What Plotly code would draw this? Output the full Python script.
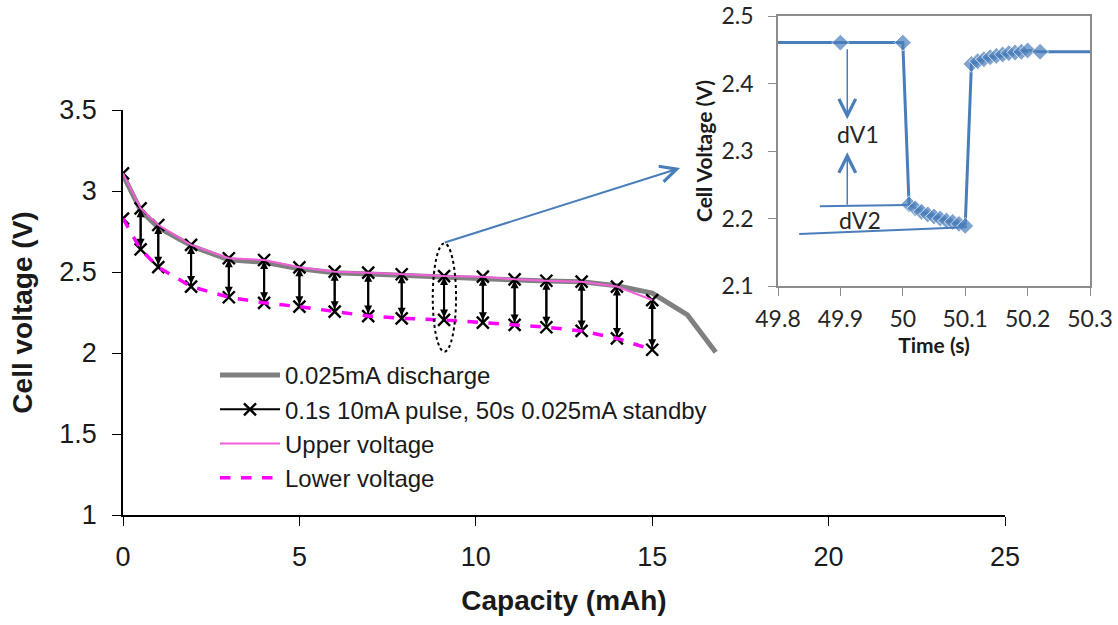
import plotly.graph_objects as go

# ---------------- data ----------------
# pulse test: capacity positions of the pulses, upper (rest) and lower (pulse) voltages
pulse_cap = [0, 0.5, 1, 1.93, 3, 4, 5, 6, 6.95, 7.9, 9.1, 10.2, 11.1, 12.0, 13.0, 14.0, 15.0]
upper_v = [3.109, 2.893, 2.79, 2.667, 2.585, 2.574, 2.529, 2.502, 2.496, 2.486, 2.475,
           2.471, 2.455, 2.446, 2.44, 2.41, 2.327]
lower_v = [2.83, 2.64, 2.53, 2.41, 2.344, 2.31, 2.286, 2.255, 2.228, 2.214, 2.204,
           2.187, 2.173, 2.159, 2.136, 2.09, 2.02]

# continuous 0.025 mA discharge
dis_cap = [0, 0.5, 1, 2, 3, 4, 5, 6, 7, 8, 9, 10, 11, 12, 13, 14, 15, 16, 16.8]
dis_v = [3.10, 2.88, 2.775, 2.655, 2.575, 2.56, 2.52, 2.495, 2.487, 2.477, 2.468,
         2.462, 2.452, 2.445, 2.44, 2.415, 2.37, 2.235, 2.005]

# inset: one pulse around t = 50 s
inset_t = [49.8, 49.9, 50.0,
           50.01, 50.02, 50.03, 50.04, 50.05, 50.06, 50.07, 50.08, 50.09, 50.1,
           50.11, 50.12, 50.13, 50.14, 50.15, 50.16, 50.17, 50.18, 50.19, 50.2,
           50.22, 50.3]
inset_v = [2.4606, 2.4606, 2.4606,
           2.221, 2.215, 2.210, 2.206, 2.203, 2.200, 2.197, 2.195, 2.192, 2.189,
           2.429, 2.433, 2.436, 2.439, 2.441, 2.443, 2.445, 2.446, 2.447, 2.449,
           2.447, 2.447]
inset_marker_shown = [0, 1, 1] + [1] * 10 + [1] * 10 + [1, 0]

# tick labels
main_x_ticks = [0, 5, 10, 15, 20, 25]
main_y_ticks = [1, 1.5, 2, 2.5, 3, 3.5]
inset_x_ticks = [49.8, 49.9, 50, 50.1, 50.2, 50.3]
inset_x_ticktext = ["49.8", "49.9", "50", "50.1", "50.2", "50.3"]
inset_y_ticks = [2.1, 2.2, 2.3, 2.4, 2.5]
inset_y_ticktext = ["2.1", "2.2", "2.3", "2.4", "2.5"]

# labels
legend_names = ["0.025mA discharge", "0.1s 10mA pulse, 50s 0.025mA standby",
                "Upper voltage", "Lower voltage"]
main_x_title = "Capacity (mAh)"
main_y_title = "Cell voltage (V)"
inset_x_title = "Time (s)"
inset_y_title = "Cell Voltage (V)"

# annotation geometry (in data units)
ellipse_x = [8.78, 9.44]
ellipse_y = [2.008, 2.677]
zoom_arrow_tail = [9.08, 2.679]
zoom_arrow_head = [15.79, 3.142]
dv1_arrow_down = [49.911, 2.453, 2.347]   # x, from, to
dv1_arrow_up = [49.911, 2.218, 2.298]
dv1_label = [49.928, 2.325, "dV1"]
dv2_label = [49.932, 2.198, "dV2"]
ref_line_1 = [49.867, 2.218, 50.007, 2.220]
ref_line_2 = [49.834, 2.177, 50.1, 2.187]

# ---------------- figure ----------------
W, H = 1118, 625
MAIN_FONT = "Liberation Sans, Arial, sans-serif"
INSET_FONT = "Lato, Carlito, Calibri, sans-serif"
BLUE = "#4a7ebb"
EPS = 1e-6


def fx(p):
    return p / W


def fy(p):
    return 1 - p / H


fig = go.Figure()

fig.add_trace(go.Scatter(x=dis_cap, y=dis_v, mode="lines", name=legend_names[0],
                         line=dict(color="#808080", width=5)))

px, py = [], []
for i, (c, u, l) in enumerate(zip(pulse_cap, upper_v, lower_v)):
    if i == 0:
        px += [c, None, c, None]
        py += [u, None, l, None]
    else:
        px += [c, c, None]
        py += [u, l, None]
fig.add_trace(go.Scatter(x=px, y=py, mode="lines+markers", name=legend_names[1],
                         connectgaps=False,
                         line=dict(color="black", width=2),
                         marker=dict(symbol="x-thin", size=12,
                                     line=dict(color="black", width=2.4))))

fig.add_trace(go.Scatter(x=pulse_cap, y=upper_v, mode="lines", name=legend_names[2],
                         line=dict(color="#f060d8", width=2)))
fig.add_trace(go.Scatter(x=pulse_cap, y=lower_v, mode="lines", name=legend_names[3],
                         line=dict(color="#ff00ff", width=3.5, dash="dash")))

# inset trace
fig.add_trace(go.Scatter(x=inset_t, y=inset_v, mode="lines+markers", xaxis="x2", yaxis="y2",
                         showlegend=False, cliponaxis=False,
                         line=dict(color=BLUE, width=3),
                         marker=dict(symbol="diamond", color=BLUE,
                                     size=[13 * s for s in inset_marker_shown])))

annotations = []
# double arrowheads on each pulse bar
for c, u, l in list(zip(pulse_cap, upper_v, lower_v))[1:]:
    annotations.append(dict(x=c, y=u, ax=c, ay=l, xref="x", yref="y", axref="x", ayref="y",
                            text="", showarrow=True, arrowside="end+start",
                            arrowhead=2, startarrowhead=2, arrowsize=0.8, startarrowsize=0.8,
                            arrowwidth=2, arrowcolor="black", standoff=1, startstandoff=1))
# zoom arrow
annotations.append(dict(x=zoom_arrow_head[0], y=zoom_arrow_head[1],
                        ax=zoom_arrow_tail[0], ay=zoom_arrow_tail[1],
                        xref="x", yref="y", axref="x", ayref="y", text="", showarrow=True,
                        arrowhead=5, arrowsize=1.6, arrowwidth=2, arrowcolor=BLUE))
# inset dV arrows
for a in (dv1_arrow_down, dv1_arrow_up):
    annotations.append(dict(x=a[0], y=a[2], ax=a[0], ay=a[1],
                            xref="x2", yref="y2", axref="x2", ayref="y2", text="",
                            showarrow=True, arrowhead=5, arrowsize=2.2, arrowwidth=1.5,
                            arrowcolor=BLUE))
for lab in (dv1_label, dv2_label):
    annotations.append(dict(x=lab[0], y=lab[1], xref="x2", yref="y2", text=lab[2],
                            showarrow=False, font=dict(family=INSET_FONT, size=23, color="#262626")))

shapes = [
    dict(type="circle", xref="x", yref="y", x0=ellipse_x[0], x1=ellipse_x[1],
         y0=ellipse_y[0], y1=ellipse_y[1], line=dict(color="black", width=2, dash="dot")),
    dict(type="line", xref="x2", yref="y2", x0=ref_line_1[0], y0=ref_line_1[1],
         x1=ref_line_1[2], y1=ref_line_1[3], line=dict(color=BLUE, width=2)),
    dict(type="line", xref="x2", yref="y2", x0=ref_line_2[0], y0=ref_line_2[1],
         x1=ref_line_2[2], y1=ref_line_2[3], line=dict(color=BLUE, width=2)),
]

# pixel layout (reference page pixels)
main_l, main_r, main_t, main_b = 123, 1005, 110, 515
ins_l, ins_r, ins_t, ins_b = 778, 1090, 16, 286

fig.update_layout(
    width=W, height=H, autosize=False,
    margin=dict(l=0, r=0, t=0, b=0),
    paper_bgcolor="white", plot_bgcolor="rgba(0,0,0,0)",
    font=dict(family=MAIN_FONT, color="#1a1a1a"),
    showlegend=True,
    legend=dict(x=fx(215), y=fy(353), xanchor="left", yanchor="top",
                bgcolor="rgba(0,0,0,0)", font=dict(family=MAIN_FONT, size=24, color="#1a1a1a"),
                itemwidth=60, tracegroupgap=0),
    xaxis=dict(domain=[fx(main_l), fx(main_r)], range=[0, 25],
               tickmode="array", tickvals=main_x_ticks,
               showgrid=False, zeroline=False, showline=True, linecolor="black", linewidth=1.5,
               ticks="outside", ticklen=9, tickcolor="black", tickwidth=1.2,
               tickfont=dict(size=27, family=MAIN_FONT), ticklabelstandoff=8,
               title=dict(text=main_x_title, font=dict(size=28, weight="bold"), standoff=19),
               anchor="y", automargin=False),
    yaxis=dict(domain=[fy(main_b), fy(main_t)], range=[1, 3.5],
               tickmode="array", tickvals=main_y_ticks,
               showgrid=False, zeroline=False, showline=True, linecolor="black", linewidth=1.5,
               ticks="outside", ticklen=9, tickcolor="black", tickwidth=1.2,
               tickfont=dict(size=27, family=MAIN_FONT), ticklabelstandoff=10,
               title=dict(text=main_y_title, font=dict(size=28, weight="bold"), standoff=19),
               anchor="x", automargin=False),
    xaxis2=dict(domain=[fx(ins_l), fx(ins_r)], range=[49.8 - EPS, 50.3 + EPS],
                tickmode="array", tickvals=inset_x_ticks, ticktext=inset_x_ticktext,
                showgrid=False, zeroline=False, showline=True, mirror=True,
                linecolor="#8c8c8c", linewidth=1.5,
                ticks="outside", ticklen=8, tickcolor="#8c8c8c",
                tickfont=dict(size=23, family=INSET_FONT, color="#262626"), ticklabelstandoff=4,
                ticklabeloverflow="allow",
                title=dict(text=inset_x_title, font=dict(size=21, family=INSET_FONT, weight="bold",
                                                         color="#1a1a1a"), standoff=1),
                anchor="y2", automargin=False),
    yaxis2=dict(domain=[fy(ins_b), fy(ins_t)], range=[2.1 - EPS, 2.5 + EPS],
                tickmode="array", tickvals=inset_y_ticks, ticktext=inset_y_ticktext,
                showgrid=False, zeroline=False, showline=True, mirror=True,
                linecolor="#8c8c8c", linewidth=1.5,
                ticks="outside", ticklen=8, tickcolor="#8c8c8c",
                tickfont=dict(size=23, family=INSET_FONT, color="#262626"), ticklabelstandoff=10,
                ticklabeloverflow="allow",
                title=dict(text=inset_y_title, font=dict(size=21, family=INSET_FONT, weight="bold",
                                                         color="#1a1a1a"), standoff=3),
                anchor="x2", automargin=False),
    annotations=annotations,
    shapes=shapes,
)

fig.write_html("out.html", config={"displayModeBar": False},
               post_script="document.body.style.margin='0px'; document.body.style.overflow='hidden';")
